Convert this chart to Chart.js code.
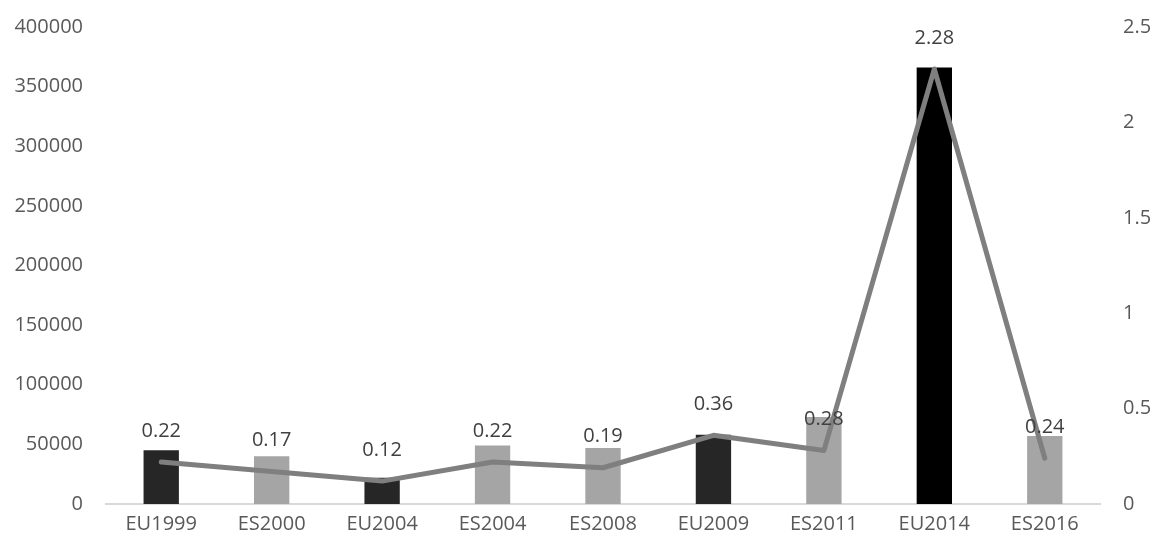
<!DOCTYPE html>
<html>
<head>
<meta charset="utf-8">
<script src="https://cdn.jsdelivr.net/npm/chart.js@4/dist/chart.umd.min.js"></script>
<style>
  body { margin: 0; background: #fff; }
  #wrap { width: 1156px; height: 545px; }
</style>
</head>
<body>
<div id="wrap"><canvas id="myChart"></canvas></div>
<script>
const categories = ["EU1999", "ES2000", "EU2004", "ES2004", "ES2008", "EU2009", "ES2011", "EU2014", "ES2016"];
const barValues = [45000, 40000, 22000, 49000, 47000, 58000, 73000, 366000, 57000];
const lineValues = [0.22, 0.17, 0.12, 0.22, 0.19, 0.36, 0.28, 2.28, 0.24];
const barColors = ["#262626", "#a5a5a5", "#262626", "#a5a5a5", "#a5a5a5", "#262626", "#a5a5a5", "#000000", "#a5a5a5"];

const tickFont = { family: "Open Sans", size: 20 };

// draws the value labels above the line points
const lineLabels = {
  id: "lineLabels",
  afterDatasetsDraw(chart) {
    const meta = chart.getDatasetMeta(1);
    const c = chart.ctx;
    c.save();
    c.font = "20px 'Open Sans'";
    c.fillStyle = "#404040";
    c.textAlign = "center";
    c.textBaseline = "middle";
    meta.data.forEach((pt, i) => {
      c.fillText(String(lineValues[i]), pt.x, pt.y - 31);
    });
    c.restore();
  },
};

function fitY(width) {
  return (s) => {
    s.width = width;
    s.paddingTop = 0;
    s.paddingBottom = 0;
  };
}

const ctx = document.getElementById("myChart").getContext("2d");
const myChart = new Chart(ctx, {
  type: "bar",
  data: {
    labels: categories,
    datasets: [
      {
        type: "bar",
        data: barValues,
        backgroundColor: barColors,
        barPercentage: 0.32,
        categoryPercentage: 1,
        yAxisID: "y",
        order: 1,
      },
      {
        type: "line",
        data: lineValues,
        borderColor: "#7f7f7f",
        borderWidth: 5,
        borderCapStyle: "round",
        borderJoinStyle: "round",
        pointRadius: 0,
        tension: 0,
        yAxisID: "y1",
        order: 0,
      },
    ],
  },
  options: {
    responsive: true,
    maintainAspectRatio: false,
    animation: false,
    layout: { padding: { top: 27, bottom: 1, left: 0, right: 0 } },
    plugins: { legend: { display: false }, tooltip: { enabled: false } },
    scales: {
      x: {
        grid: { display: false, drawTicks: false },
        border: { color: "#d9d9d9", width: 2 },
        ticks: { color: "#595959", font: tickFont, padding: 8, maxRotation: 0 },
      },
      y: {
        position: "left",
        min: 0,
        max: 400000,
        grid: { display: false, drawTicks: false },
        border: { display: false },
        ticks: {
          stepSize: 50000,
          color: "#595959",
          font: tickFont,
          padding: 23,
          callback: (v) => String(v),
        },
        afterFit: fitY(106),
      },
      y1: {
        position: "right",
        min: 0,
        max: 2.5,
        grid: { display: false, drawTicks: false },
        border: { display: false },
        ticks: {
          stepSize: 0.5,
          color: "#595959",
          font: tickFont,
          padding: 23,
          callback: (v) => String(v),
        },
        afterFit: fitY(56),
      },
    },
  },
  plugins: [lineLabels],
});
</script>
</body>
</html>
